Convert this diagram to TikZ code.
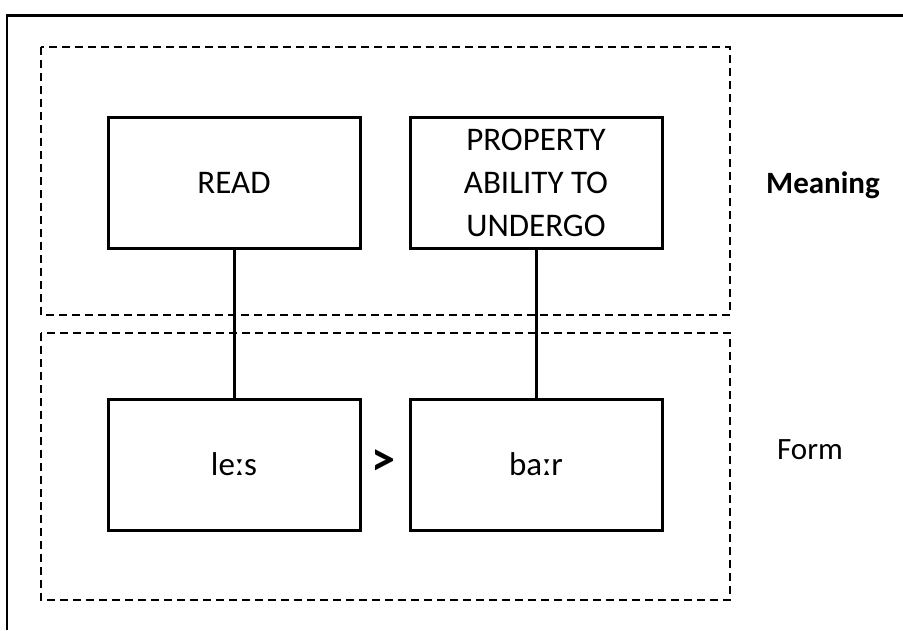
\documentclass[tikz,border=0pt]{standalone}
\usepackage{fontspec}
\setmainfont{Carlito}
\begin{document}
\begin{tikzpicture}[x=1pt,y=-1pt,
  wordbox/.style={draw,line width=3pt,minimum width=252pt,minimum height=131pt,
    align=center,font=\fontsize{33}{43}\selectfont,inner sep=0pt},
  zone/.style={draw,line width=1.5pt,dash pattern=on 8pt off 5pt},
  link/.style={line width=3pt},
  side/.style={font=\fontsize{31}{37}\selectfont}]
\useasboundingbox (0,0) rectangle (903,630);

% outer frame (top and left edges only)
\draw[line width=3pt] (903,15) -- (6,15);
\draw[line width=2pt] (7,15) -- (7,630);

% meaning and form zones
\draw[zone] (41,47) rectangle (730,315);
\draw[zone] (41,333) rectangle (730,600);

% meaning boxes
\node[wordbox] (read) at (234,182.5) {READ};
\node[wordbox] (prop) at (536,182.5) {PROPERTY\\ABILITY TO\\UNDERGO};

% form boxes
\node[wordbox] (lexs) at (234,464.5) {leːs};
\node[wordbox] (bar) at (536,464.5) {baːr};

\node[font=\fontsize{48}{52}\selectfont\bfseries] (gt) at (383,463) {>};

% connectors
\draw[link] (read) -- (lexs);
\draw[link] (prop) -- (bar);

% zone labels
\node[side,font=\fontsize{31}{37}\selectfont\bfseries] (meaning) at (823,185) {Meaning};
\node[side] (form) at (810,450) {Form};
\end{tikzpicture}
\end{document}
